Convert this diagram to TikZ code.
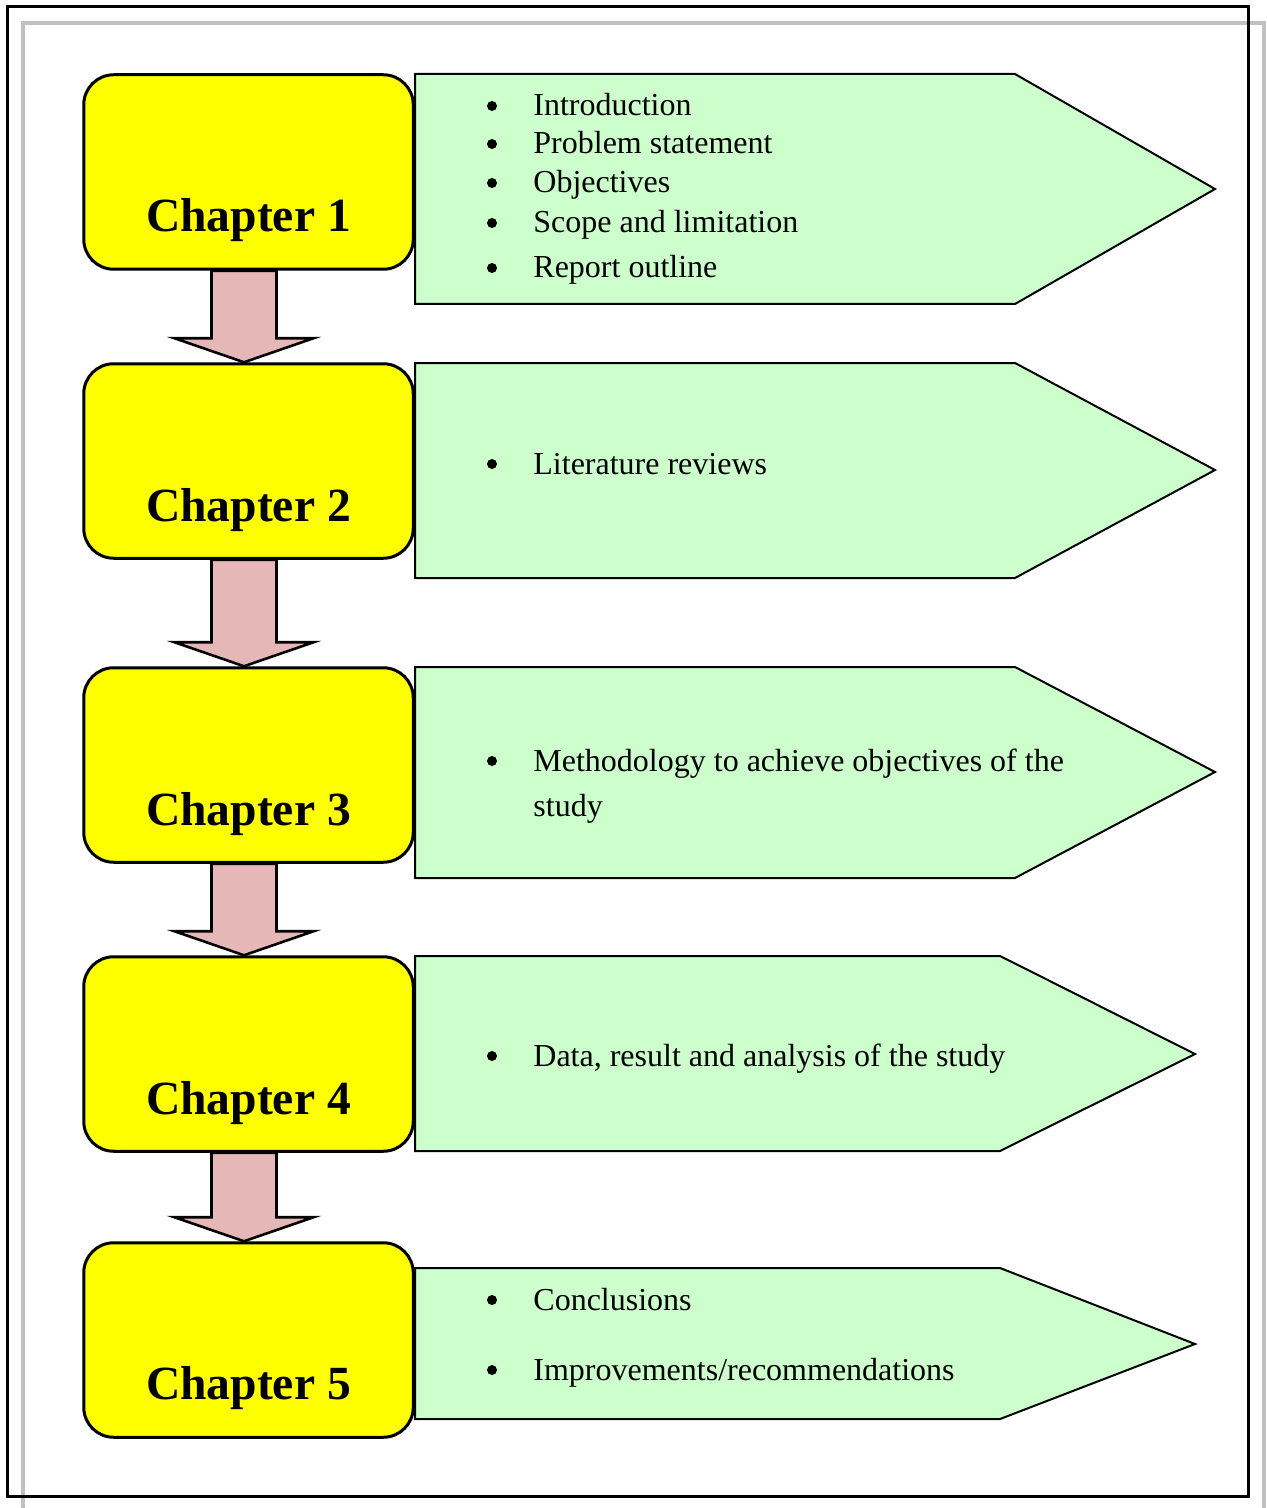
\documentclass[tikz,border=0pt]{standalone}
\usepackage{fontspec}
\setmainfont{Liberation Serif}
\usepackage{tikz}
\usepackage{xcolor}
\definecolor{chapteryellow}{RGB}{255,255,0}
\definecolor{topicgreen}{RGB}{204,255,204}
\definecolor{flowpink}{RGB}{229,184,183}
\definecolor{framegray}{RGB}{192,192,192}

\tikzset{
    chapterbox/.style={draw=black, line width=1.5pt, fill=chapteryellow, rounded corners=15pt,
        minimum width=164.75pt, minimum height=97.25pt, inner sep=0pt},
    chaptertext/.style={font=\fontsize{23.8}{28}\selectfont\bfseries, anchor=base, inner sep=0pt},
    topic/.style={draw=black, line width=1pt, fill=topicgreen, line join=miter},
    flow/.style={draw=black, line width=1.3pt, fill=flowpink, line join=miter},
    point/.style={font=\fontsize{16}{19}\selectfont, anchor=base west, inner sep=0pt}
}

\begin{document}
\begin{tikzpicture}[x=0.5pt, y=-0.5pt]
    \useasboundingbox (0,0) rectangle (1267,1508);

    % Frames
    \draw[framegray, line width=2pt] (23,1515) -- (23,23) -- (1264,23) -- (1264,1515);
    \draw[black, line width=1.5pt] (7,7) rectangle (1248,1496);

    % Topic arrows
    \draw[topic] (415,74) -- (1015,74) -- (1215,189) -- (1015,304) -- (415,304) -- cycle;
    \draw[topic] (415,363) -- (1015,363) -- (1215,470) -- (1015,578) -- (415,578) -- cycle;
    \draw[topic] (415,667) -- (1015,667) -- (1215,772) -- (1015,878) -- (415,878) -- cycle;
    \draw[topic] (415,956) -- (1000,956) -- (1195,1054) -- (1000,1151) -- (415,1151) -- cycle;
    \draw[topic] (415,1268) -- (1000,1268) -- (1195,1344) -- (1000,1419) -- (415,1419) -- cycle;

    % Chapter boxes
    \node[chapterbox] (c1) at (248.5,172) {};
    \node[chapterbox] (c2) at (248.5,461) {};
    \node[chapterbox] (c3) at (248.5,765) {};
    \node[chapterbox] (c4) at (248.5,1054) {};
    \node[chapterbox] (c5) at (248.5,1340) {};

    \node[chaptertext] (t1) at (248.5,232) {Chapter 1};
    \node[chaptertext] (t2) at (248.5,521) {Chapter 2};
    \node[chaptertext] (t3) at (248.5,825) {Chapter 3};
    \node[chaptertext] (t4) at (248.5,1114) {Chapter 4};
    \node[chaptertext] (t5) at (248.5,1399) {Chapter 5};

    % Flow between chapters
    \foreach \a/\b in {c1/c2, c2/c3, c3/c4, c4/c5}
        \draw[flow] ([xshift=-18.5pt]\a.south) -- ([xshift=14pt]\a.south)
            -- ([xshift=14pt, yshift=12pt]\b.north) -- ([xshift=32.5pt, yshift=12pt]\b.north)
            -- ([xshift=-2.25pt]\b.north) -- ([xshift=-37pt, yshift=12pt]\b.north)
            -- ([xshift=-18.5pt, yshift=12pt]\b.north) -- cycle;

    % Bullets
    \foreach \y in {106,144,183,223,268,464,761,1056,1300,1370}
        \fill (492,\y) circle (2.5pt);

    % Chapter contents
    \node[point] (p1) at (533,116) {Introduction};
    \node[point] (p2) at (533,154) {Problem statement};
    \node[point] (p3) at (533,193) {Objectives};
    \node[point] (p4) at (533,233) {Scope and limitation};
    \node[point] (p5) at (533,278) {Report outline};
    \node[point] (p6) at (533,474) {Literature reviews};
    \node[point] (p7) at (533,771) {Methodology to achieve objectives of the};
    \node[point] (p8) at (533,816) {study};
    \node[point] (p9) at (533,1066) {Data, result and analysis of the study};
    \node[point] (p10) at (533,1310) {Conclusions};
    \node[point] (p11) at (533,1380) {Improvements/recommendations};

\end{tikzpicture}
\end{document}
